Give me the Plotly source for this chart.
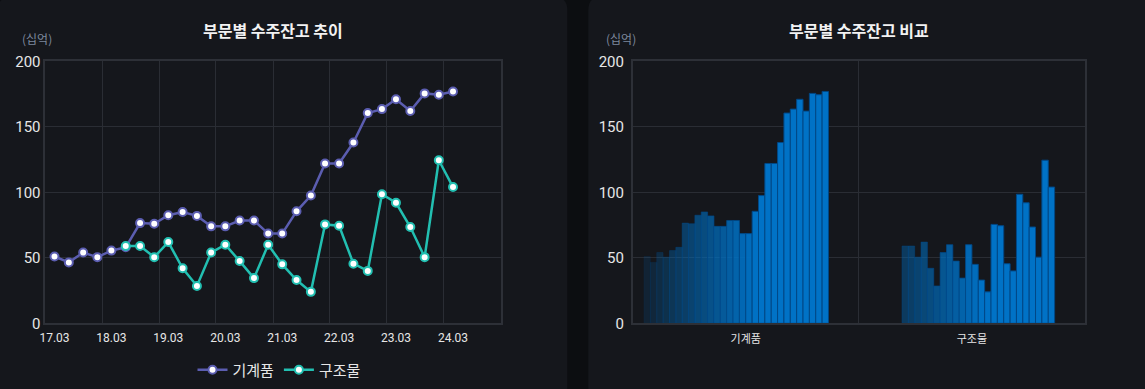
import plotly.graph_objects as go

# ---------------- data ----------------
quarters = ["17.03", "17.06", "17.09", "17.12",
            "18.03", "18.06", "18.09", "18.12",
            "19.03", "19.06", "19.09", "19.12",
            "20.03", "20.06", "20.09", "20.12",
            "21.03", "21.06", "21.09", "21.12",
            "22.03", "22.06", "22.09", "22.12",
            "23.03", "23.06", "23.09", "23.12",
            "24.03", "24.06", "24.09", "24.12"]

machinery = [51, 46.5, 54, 50.5, 55.5, 58, 76.5, 76, 82.5, 85, 82, 74, 74, 78.5, 78.5,
             68.5, 68.5, 85.5, 97.5, 122, 122, 138, 160.5, 163.5, 171, 162, 175.5, 174.5, 177,
             None, None, None]
structure = [None, None, None, None, None, 59, 59, 50.5, 62, 42, 28.5, 54, 60, 47.5, 34.5,
             60, 45, 33, 24, 75.5, 74.5, 45.5, 40, 98.5, 92, 73.5, 50.5, 124.5, 104,
             None, None, None]

series_names = ["기계품", "구조물"]
tick_labels = ["17.03", "18.03", "19.03", "20.03", "21.03", "22.03", "23.03", "24.03"]
unit_label = "(십억)"
title_left = "부문별 수주잔고 추이"
title_right = "부문별 수주잔고 비교"

# ---------------- style ----------------
W, H = 1145, 389
FONT = "Roboto, 'Noto Sans CJK KR', sans-serif"
KFONT = "'Noto Sans CJK KR', sans-serif"
PANEL = "#15171c"
GAP = "#0c0e11"
GRID = "#2a2d34"
C_MACH = "#5b5db0"
C_STRU = "#22bfb1"


def to_date(q):
    yy, mm = q.split(".")
    return f"20{yy}-{mm}-01"


dates = [to_date(q) for q in quarters]
tick_dates = [to_date(t) for t in tick_labels]

fig = go.Figure()

for name, vals, col in [(series_names[0], machinery, C_MACH), (series_names[1], structure, C_STRU)]:
    fig.add_trace(go.Scatter(
        x=dates, y=vals, name=name, mode="lines+markers",
        line=dict(color=col, width=2.5),
        marker=dict(size=8, color="white", line=dict(color=col, width=2)),
        xaxis="x", yaxis="y", connectgaps=False,
    ))

n = len(quarters)
for i in range(n):
    a = min(1.0, 0.14 + 0.05 * i)
    fig.add_trace(go.Bar(
        x=series_names, y=[machinery[i], structure[i]],
        marker=dict(color=f"rgba(0,114,198,{a:.3f})",
                    line=dict(color=f"rgba(0,72,135,{a:.3f})", width=1)),
        xaxis="x2", yaxis="y2", showlegend=False, name=quarters[i],
    ))


def px(x):
    return x / W


def py(y):
    return 1 - y / H


def rounded(x0, y0, x1, y1, r):
    rx, ry = r / W, r / H
    X0, X1 = px(x0), px(x1)
    Y0, Y1 = py(y0), py(y1)  # Y0 top (bigger), Y1 bottom
    return (f"M{X0+rx},{Y0} L{X1-rx},{Y0} Q{X1},{Y0} {X1},{Y0-ry} "
            f"L{X1},{Y1+ry} Q{X1},{Y1} {X1-rx},{Y1} L{X0+rx},{Y1} "
            f"Q{X0},{Y1} {X0},{Y1+ry} L{X0},{Y0-ry} Q{X0},{Y0} {X0+rx},{Y0} Z")


shapes = [
    dict(type="path", xref="paper", yref="paper", path=rounded(-2, -3, 567.3, 400, 13),
         fillcolor=PANEL, line=dict(width=0), layer="below"),
    dict(type="path", xref="paper", yref="paper", path=rounded(588.3, -3, 1160, 400, 13),
         fillcolor=PANEL, line=dict(width=0), layer="below"),
]

annotations = [
    dict(text=f"<b>{title_left}</b>", x=px(273), y=py(30), xref="paper", yref="paper",
         showarrow=False, font=dict(family=KFONT, size=16, color="#f2f2f2"),
         xanchor="center", yanchor="middle"),
    dict(text=f"<b>{title_right}</b>", x=px(859), y=py(30), xref="paper", yref="paper",
         showarrow=False, font=dict(family=KFONT, size=16, color="#f2f2f2"),
         xanchor="center", yanchor="middle"),
    dict(text=unit_label, x=px(36.7), y=py(38.5), xref="paper", yref="paper",
         showarrow=False, font=dict(family=KFONT, size=12, color="#7d889c"),
         xanchor="center", yanchor="middle"),
    dict(text=unit_label, x=px(621), y=py(38.5), xref="paper", yref="paper",
         showarrow=False, font=dict(family=KFONT, size=12, color="#7d889c"),
         xanchor="center", yanchor="middle"),
]

axis_common = dict(showline=True, linecolor="#2d3037", linewidth=1.5, mirror=True,
                   zeroline=False, ticks="", automargin=False)

fig.update_layout(
    width=W, height=H,
    margin=dict(l=0, r=0, t=0, b=0, pad=0, autoexpand=False),
    paper_bgcolor=GAP, plot_bgcolor="rgba(0,0,0,0)",
    font=dict(family=FONT, color="#e6e6e6"),
    shapes=shapes, annotations=annotations,
    barmode="group", bargap=0.1, bargroupgap=0,
    xaxis=dict(domain=[px(45.3), px(500.7)], type="date",
               range=["2017-01-01", "2025-01-01"],
               tickmode="array", tickvals=tick_dates, ticktext=tick_labels,
               showgrid=False, tickfont=dict(size=12, color="#e6e6e6"),
               ticklabelstandoff=3,
               minor=dict(tickmode="linear", tick0="2017-01-01", dtick="M12",
                          showgrid=True, gridcolor=GRID, gridwidth=1, ticks=""),
               anchor="y", **axis_common),
    yaxis=dict(domain=[py(323.3), py(61.3)], range=[0, 200], dtick=50,
               showgrid=True, gridcolor=GRID, gridwidth=1,
               tickfont=dict(size=15, color="#e6e6e6"), anchor="x", **axis_common),
    xaxis2=dict(domain=[px(632.7), px(1085)], type="category",
                tickson="boundaries", showgrid=True, gridcolor=GRID,
                tickfont=dict(family=KFONT, size=11, color="#e6e6e6"),
                ticklabelstandoff=5,
                anchor="y2", **axis_common),
    yaxis2=dict(domain=[py(323.3), py(61.3)], range=[0, 200], dtick=50,
                showgrid=True, gridcolor=GRID, gridwidth=1,
                tickfont=dict(size=15, color="#e6e6e6"), anchor="x2",
                ticklabelstandoff=4, **axis_common),
    legend=dict(orientation="h", x=px(279), y=py(370), xanchor="center", yanchor="middle",
                font=dict(family=KFONT, size=15, color="#e6e6e6"),
                bgcolor="rgba(0,0,0,0)"),
    showlegend=True,
)

fig.write_html(
    "out.html",
    config={"displayModeBar": False},
    post_script="document.body.style.margin='0';document.body.style.padding='0';"
                "document.body.style.overflow='hidden';"
                "document.documentElement.style.overflow='hidden';",
)
